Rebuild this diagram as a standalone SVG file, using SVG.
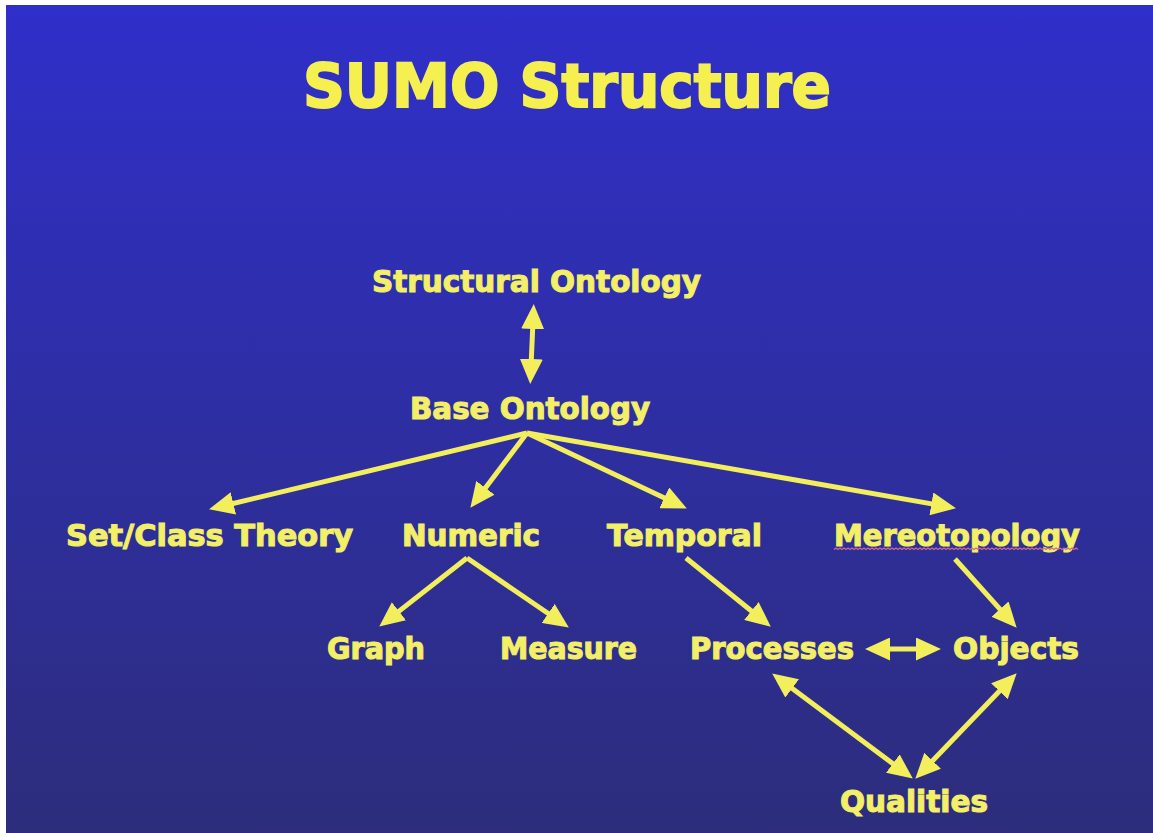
<svg xmlns="http://www.w3.org/2000/svg" width="1153" height="833" viewBox="0 0 1153 833">
  <defs>
    <linearGradient id="bg" x1="0" y1="0" x2="0" y2="1">
      <stop offset="0" stop-color="#2F2FCA"/>
      <stop offset="1" stop-color="#2D2D7C"/>
    </linearGradient>
    <marker id="head" viewBox="0 0 25 23" markerUnits="userSpaceOnUse" markerWidth="25" markerHeight="23" refX="12" refY="11.5" orient="auto-start-reverse">
      <path d="M0,0 L25,11.5 L0,23 Z" fill="#F2EE5C"/>
    </marker>
  </defs>
  <style>
    .lbl { font-family: "DejaVu Sans", Verdana, sans-serif; font-weight: bold; font-size: 30px; fill: #F3EF66; stroke: #F3EF66; stroke-width: 1.1; }
    .title { font-family: "DejaVu Sans", Verdana, sans-serif; font-weight: bold; font-size: 61px; fill: #F5F050; stroke: #F5F050; stroke-width: 2; }
    .edge { stroke: #F2EE5C; stroke-width: 5; fill: none; marker-end: url(#head); }
    .both { marker-start: url(#head); }
  </style>

  <!-- slide background -->
  <rect x="0" y="0" width="1153" height="833" fill="#FFFFFF"/>
  <rect x="6" y="5" width="1147" height="828" fill="url(#bg)"/>

  <text class="title" x="303" y="107" textLength="528" lengthAdjust="spacingAndGlyphs">SUMO Structure</text>

  <!-- nodes -->
  <g id="structural-ontology"><text class="lbl" x="372" y="292" textLength="329" lengthAdjust="spacingAndGlyphs">Structural Ontology</text></g>
  <g id="base-ontology"><text class="lbl" x="410" y="419" textLength="240" lengthAdjust="spacingAndGlyphs">Base Ontology</text></g>
  <g id="set-class-theory"><text class="lbl" x="66" y="546" textLength="287" lengthAdjust="spacingAndGlyphs">Set/Class Theory</text></g>
  <g id="numeric"><text class="lbl" x="402" y="546" textLength="138" lengthAdjust="spacingAndGlyphs">Numeric</text></g>
  <g id="temporal"><text class="lbl" x="607" y="546" textLength="155" lengthAdjust="spacingAndGlyphs">Temporal</text></g>
  <g id="mereotopology">
    <text class="lbl" x="834" y="546" textLength="246" lengthAdjust="spacingAndGlyphs">Mereotopology</text>
    <!-- spell-check squiggle under the word -->
    <path d="M834,549.5
      l2,-1.5 l2,1.5 l2,-1.5 l2,1.5 l2,-1.5 l2,1.5 l2,-1.5 l2,1.5 l2,-1.5 l2,1.5 l2,-1.5 l2,1.5 l2,-1.5 l2,1.5 l2,-1.5 l2,1.5 l2,-1.5 l2,1.5 l2,-1.5 l2,1.5
      l2,-1.5 l2,1.5 l2,-1.5 l2,1.5 l2,-1.5 l2,1.5 l2,-1.5 l2,1.5 l2,-1.5 l2,1.5 l2,-1.5 l2,1.5 l2,-1.5 l2,1.5 l2,-1.5 l2,1.5 l2,-1.5 l2,1.5 l2,-1.5 l2,1.5
      l2,-1.5 l2,1.5 l2,-1.5 l2,1.5 l2,-1.5 l2,1.5 l2,-1.5 l2,1.5 l2,-1.5 l2,1.5 l2,-1.5 l2,1.5 l2,-1.5 l2,1.5 l2,-1.5 l2,1.5 l2,-1.5 l2,1.5 l2,-1.5 l2,1.5
      l2,-1.5 l2,1.5 l2,-1.5 l2,1.5 l2,-1.5 l2,1.5 l2,-1.5 l2,1.5 l2,-1.5 l2,1.5 l2,-1.5 l2,1.5 l2,-1.5 l2,1.5 l2,-1.5 l2,1.5 l2,-1.5 l2,1.5 l2,-1.5 l2,1.5
      l2,-1.5 l2,1.5 l2,-1.5 l2,1.5 l2,-1.5 l2,1.5 l2,-1.5 l2,1.5 l2,-1.5 l2,1.5 l2,-1.5 l2,1.5 l2,-1.5 l2,1.5 l2,-1.5 l2,1.5 l2,-1.5 l2,1.5 l2,-1.5 l2,1.5
      l2,-1.5 l2,1.5 l2,-1.5 l2,1.5 l2,-1.5 l2,1.5 l2,-1.5 l2,1.5 l2,-1.5 l2,1.5 l2,-1.5 l2,1.5 l2,-1.5 l2,1.5 l2,-1.5 l2,1.5 l2,-1.5 l2,1.5 l2,-1.5 l2,1.5
      l2,-1.5 l2,1.5" stroke="#C86A98" stroke-width="1.3" fill="none"/>
  </g>
  <g id="graph"><text class="lbl" x="327" y="659" textLength="98" lengthAdjust="spacingAndGlyphs">Graph</text></g>
  <g id="measure"><text class="lbl" x="500" y="659" textLength="137" lengthAdjust="spacingAndGlyphs">Measure</text></g>
  <g id="processes"><text class="lbl" x="690" y="659" textLength="164" lengthAdjust="spacingAndGlyphs">Processes</text></g>
  <g id="objects"><text class="lbl" x="953" y="659" textLength="126" lengthAdjust="spacingAndGlyphs">Objects</text></g>
  <g id="qualities"><text class="lbl" x="840" y="812" textLength="148" lengthAdjust="spacingAndGlyphs">Qualities</text></g>

  <!-- connectors -->
  <g id="connectors">
    <line class="edge both" x1="533.2" y1="317" x2="530.8" y2="371"/>
    <line class="edge" x1="527" y1="433" x2="221.7" y2="506.2"/>
    <line class="edge" x1="527" y1="433" x2="478.2" y2="497.4"/>
    <line class="edge" x1="527" y1="433" x2="675.1" y2="502.9"/>
    <line class="edge" x1="527" y1="433" x2="943.2" y2="505.9"/>
    <line class="edge" x1="467" y1="558" x2="389.5" y2="618.6"/>
    <line class="edge" x1="467" y1="558" x2="558.1" y2="620.2"/>
    <line class="edge" x1="686" y1="558" x2="760.7" y2="618.5"/>
    <line class="edge" x1="955" y1="559" x2="1008" y2="618.1"/>
    <line class="edge both" x1="878" y1="649" x2="928" y2="649"/>
    <line class="edge both" x1="782.6" y1="681.2" x2="902.4" y2="770.8"/>
    <line class="edge both" x1="1007.7" y1="682.6" x2="924.3" y2="769.4"/>
  </g>
</svg>
